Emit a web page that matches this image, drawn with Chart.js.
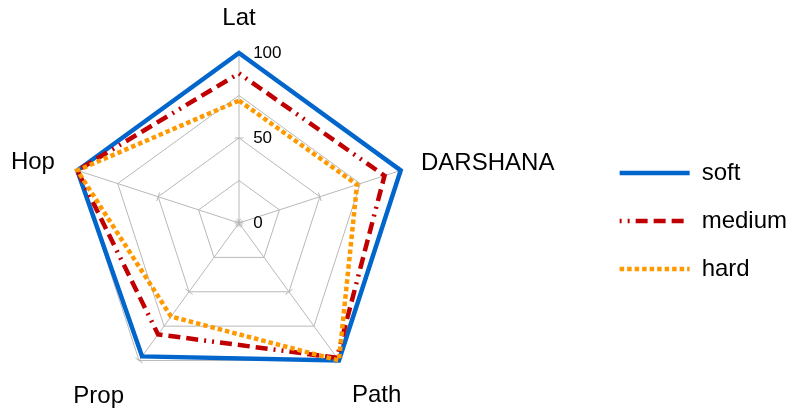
<!DOCTYPE html>
<html>
<head>
<meta charset="utf-8">
<script src="https://cdn.jsdelivr.net/npm/chart.js@4.4.1/dist/chart.umd.min.js"></script>
<style>
  html, body { margin: 0; padding: 0; background: #fff; }
  #wrap { width: 791px; height: 412px; }
</style>
</head>
<body>
<div id="wrap"><canvas id="radar"></canvas></div>
<script>
// axes, clockwise from the top
const axes = ['Lat', 'DARSHANA', 'Path', 'Prop', 'Hop'];

const soft   = [100, 100, 100, 97, 100];
const medium = [88, 90, 98, 81, 100];
const hard   = [72, 73, 100, 68, 100];

const shownTicks = [0, 50, 100];

// label placement per axis (padding from the web, line height)
const labelPad  = [9.5, 10.9, 11.7, 15.1, 13];
const labelLine = [1.2, 0.05, 1.375, 1.23, 0.05];

const gridColor = '#b8b8b8';
Chart.defaults.font.family = '"Liberation Sans", Arial, sans-serif';
Chart.defaults.color = '#000';

// fix the centre and radius, then let fit() rebuild the label spots
function pinWeb(scale) {
  const box = { left: scale.left, right: scale.right, top: scale.top, bottom: scale.bottom };
  scale.xCenter = 239;
  scale.yCenter = 223;
  scale.drawingArea = 170;
  scale.left = -1e4; scale.top = -1e4; scale.right = 1e4; scale.bottom = 1e4;
  scale.fit();
  Object.assign(scale, box);
}

// legend lines take the dataset's own dash and width
function legendItems(chart) {
  return Chart.defaults.plugins.legend.labels.generateLabels(chart).map(function (item) {
    const ds = chart.data.datasets[item.datasetIndex];
    item.lineDash = ds.borderDash || [];
    item.lineWidth = ds.borderWidth;
    item.strokeStyle = ds.borderColor;
    item.lineCap = 'butt';
    return item;
  });
}

// little cross ticks on every spoke at the labelled rings
const spokeTicks = {
  id: 'spokeTicks',
  beforeDatasetsDraw(chart) {
    const r = chart.scales.r;
    const c = chart.ctx;
    c.save();
    c.strokeStyle = gridColor;
    c.lineWidth = 1;
    for (let i = 0; i < axes.length; i++) {
      const a = r.getIndexAngle(i);
      const dx = Math.cos(a) * 4.5, dy = Math.sin(a) * 4.5;
      shownTicks.forEach(function (v) {
        const p = r.getPointPositionForValue(i, v);
        c.beginPath();
        c.moveTo(p.x - dx, p.y - dy);
        c.lineTo(p.x + dx, p.y + dy);
        c.stroke();
      });
    }
    c.restore();
  }
};

const ctx = document.getElementById('radar').getContext('2d');
const myChart = new Chart(ctx, {
  type: 'radar',
  data: {
    labels: axes,
    datasets: [{
      label: 'soft',
      data: soft,
      borderColor: '#0066cc',
      backgroundColor: '#0066cc',
      borderWidth: 4.5,
      order: 3
    }, {
      label: 'medium',
      data: medium,
      borderColor: '#c00000',
      backgroundColor: '#c00000',
      borderWidth: 4.5,
      borderDash: [2, 6, 2, 6, 12, 6, 12, 6, 12, 6],
      order: 2
    }, {
      label: 'hard',
      data: hard,
      borderColor: '#ff9900',
      backgroundColor: '#ff9900',
      borderWidth: 4.5,
      borderDash: [4.5, 3],
      order: 1
    }]
  },
  plugins: [spokeTicks],
  options: {
    responsive: true,
    maintainAspectRatio: false,
    animation: false,
    layout: { padding: { top: 30, bottom: 0, left: 0, right: -6 } },
    elements: {
      line: { fill: false, tension: 0, borderCapStyle: 'butt', borderJoinStyle: 'miter' },
      point: { radius: 0, hoverRadius: 0 }
    },
    plugins: {
      tooltip: { enabled: false },
      legend: {
        position: 'right',
        align: 'center',
        labels: {
          usePointStyle: true,
          pointStyle: 'line',
          pointStyleWidth: 70,
          padding: 24,
          color: '#000',
          font: { size: 24 },
          generateLabels: legendItems,
          sort: (a, b) => a.datasetIndex - b.datasetIndex
        }
      }
    },
    scales: {
      r: {
        min: -0.0001,
        max: 100,
        afterFit: pinWeb,
        grid: { color: gridColor, lineWidth: 1 },
        angleLines: { color: gridColor, lineWidth: 1 },
        ticks: {
          stepSize: 25,
          showLabelBackdrop: false,
          color: '#000',
          font: { size: 17 },
          callback: function (value) {
            const v = Math.round(value);
            if (!shownTicks.includes(v)) return '';
            const txt = String(v);
            return ' '.repeat(6 + 2 * txt.length) + txt;
          }
        },
        pointLabels: {
          color: '#000',
          padding: (c) => labelPad[c.index],
          font: (c) => ({ size: 24, lineHeight: labelLine[c.index] })
        }
      }
    }
  }
});
</script>
</body>
</html>
